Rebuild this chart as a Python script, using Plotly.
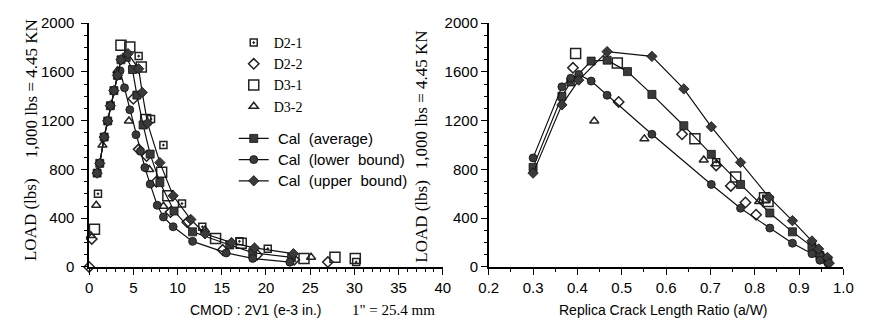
import plotly.graph_objects as go

# ---------------- data: left chart (CMOD vs load) ----------------
cal_avg_x = [0.9, 1.2, 1.7, 2.1, 2.4, 2.8, 3.2, 3.6, 4.2, 4.9, 5.4, 6.1, 6.9, 8.0, 9.6, 11.7, 15.9, 18.5, 22.9]
cal_avg_y = [770, 850, 1066, 1198, 1323, 1447, 1572, 1700, 1720, 1620, 1410, 1165, 926, 692, 459, 288, 180, 117, 78]
cal_low_x = [0.9, 1.2, 1.7, 2.1, 2.4, 2.8, 3.2, 3.5, 4.0, 4.6, 5.3, 5.8, 6.3, 6.9, 7.7, 8.4, 9.5, 11.7, 15.5, 18.5, 22.7]
cal_low_y = [770, 850, 1066, 1198, 1323, 1447, 1572, 1610, 1470, 1290, 1085, 950, 815, 680, 506, 410, 330, 210, 115, 70, 39]
cal_up_x = [0.9, 1.2, 1.7, 2.1, 2.4, 2.8, 3.2, 3.6, 4.4, 5.6, 6.0, 6.6, 8.0, 9.5, 11.5, 13.1, 16.1, 18.7, 23.1]
cal_up_y = [770, 850, 1066, 1198, 1323, 1447, 1572, 1700, 1750, 1626, 1432, 1180, 856, 584, 389, 272, 200, 156, 109]

d21_x = [1.0, 5.6, 7.0, 8.4, 10.5, 12.8, 17.0, 20.2, 30.2]
d21_y = [600, 1730, 1214, 1000, 520, 330, 210, 150, 40]
d22_x = [0.0, 0.3, 5.0, 5.6, 6.5, 7.6, 9.2, 11.1, 15.1, 19.0, 23.2, 27.0]
d22_y = [0, 230, 1380, 965, 910, 700, 450, 366, 140, 100, 60, 40]
d31_x = [0.6, 3.6, 4.6, 5.9, 6.4, 8.2, 8.9, 14.3, 17.2, 24.3, 27.8, 30.1]
d31_y = [310, 1820, 1805, 1640, 1210, 778, 584, 233, 195, 70, 80, 70]
d32_x = [0.2, 0.8, 1.5, 3.2, 4.5, 6.8, 8.4, 13.1, 25.1]
d32_y = [257, 506, 1000, 1610, 1198, 800, 498, 303, 80]

# ---------------- data: right chart (a/W vs load) ----------------
r_avg_x = [0.3, 0.365, 0.385, 0.431, 0.467, 0.513, 0.568, 0.64, 0.702, 0.768, 0.834, 0.885, 0.929, 0.947, 0.965]
r_avg_y = [817, 1400, 1518, 1689, 1697, 1603, 1416, 1159, 924, 677, 443, 288, 167, 93, 55]
r_low_x = [0.3, 0.365, 0.385, 0.403, 0.431, 0.467, 0.568, 0.702, 0.768, 0.834, 0.885, 0.929, 0.947, 0.965]
r_low_y = [895, 1478, 1549, 1580, 1525, 1409, 1089, 677, 482, 319, 195, 109, 55, 31]
r_up_x = [0.3, 0.365, 0.403, 0.467, 0.568, 0.64, 0.702, 0.768, 0.832, 0.885, 0.929, 0.944, 0.964, 0.968]
r_up_y = [770, 1330, 1533, 1767, 1728, 1461, 1150, 858, 573, 380, 213, 148, 78, 31]

rd21_x = [0.713, 0.826]
rd21_y = [860, 560]
rd22_x = [0.39, 0.493, 0.636, 0.713, 0.746, 0.779, 0.803]
rd22_y = [1634, 1354, 1089, 833, 665, 529, 428]
rd31_x = [0.396, 0.49, 0.665, 0.757, 0.822, 0.83]
rd31_y = [1751, 1673, 1051, 739, 568, 537]
rd32_x = [0.438, 0.551, 0.685, 0.81]
rd32_y = [1198, 1051, 878, 537]

x_ticks_left = [0, 5, 10, 15, 20, 25, 30, 35, 40]
x_ticks_right = [0.2, 0.3, 0.4, 0.5, 0.6, 0.7, 0.8, 0.9, 1.0]
y_ticks = [0, 400, 800, 1200, 1600, 2000]

SANS = "Liberation Sans, Arial, sans-serif"
SERIF = "Liberation Serif, Times New Roman, serif"
FILL = "#3a3a3a"

fig = go.Figure()

exp_styles = [
    ("D2-1", "square-dot", 7, d21_x, d21_y, rd21_x, rd21_y),
    ("D2-2", "diamond-open", 8, d22_x, d22_y, rd22_x, rd22_y),
    ("D3-1", "square-open", 10, d31_x, d31_y, rd31_x, rd31_y),
    ("D3-2", "triangle-up-open", 8, d32_x, d32_y, rd32_x, rd32_y),
]
for name, sym, size, lx, ly, rx, ry in exp_styles:
    mk = dict(symbol=sym, size=size, color="#222", line=dict(color="#222", width=1.5))
    if sym == "square-dot":
        mk = dict(symbol="square-dot", size=size, color="white", line=dict(color="#222", width=1.5))
    fig.add_trace(go.Scatter(x=lx, y=ly, mode="markers", name=name, marker=mk, cliponaxis=False,
                             legendgroup="exp", xaxis="x", yaxis="y"))
    fig.add_trace(go.Scatter(x=rx, y=ry, mode="markers", name=name, marker=mk, cliponaxis=False,
                             showlegend=False, xaxis="x2", yaxis="y2"))

cal_styles = [
    ("Cal  (average)", "square", 8, cal_avg_x, cal_avg_y, r_avg_x, r_avg_y),
    ("Cal  (lower  bound)", "circle", 8, cal_low_x, cal_low_y, r_low_x, r_low_y),
    ("Cal  (upper  bound)", "diamond", 8, cal_up_x, cal_up_y, r_up_x, r_up_y),
]
for name, sym, size, lx, ly, rx, ry in cal_styles:
    mk = dict(symbol=sym, size=size, color=FILL, line=dict(color="#111", width=0.8))
    ln = dict(color="#111", width=1.2)
    fig.add_trace(go.Scatter(x=lx, y=ly, mode="lines+markers",
                             name='<span style="font-family:Liberation Sans;font-size:15px">\u00a0' + name + "</span>",
                             marker=mk, line=ln, legendgroup="cal", xaxis="x", yaxis="y"))
    fig.add_trace(go.Scatter(x=rx, y=ry, mode="lines+markers", name=name, marker=mk, line=ln,
                             showlegend=False, xaxis="x2", yaxis="y2"))

W, H = 871, 329
axis_common = dict(showline=True, linecolor="black", linewidth=1.5, showgrid=False, zeroline=False,
                   ticks="outside", ticklen=6, tickwidth=1.3, tickcolor="black",
                   tickfont=dict(family=SANS, size=15, color="black"))

fig.update_layout(
    width=W, height=H,
    margin=dict(l=0, r=0, t=0, b=0),
    paper_bgcolor="white", plot_bgcolor="white",
    showlegend=True,
    legend=dict(x=229 / W, y=1 - 19 / H, xanchor="left", yanchor="top",
                bgcolor="rgba(0,0,0,0)", font=dict(family=SERIF, size=14, color="black"),
                tracegroupgap=11, itemwidth=30),
    xaxis=dict(domain=[81 / W, 443 / W], range=[0, 40], tickvals=x_ticks_left,
               minor=dict(dtick=1, ticks="outside", ticklen=3, tickcolor="black"),
               anchor="y", **axis_common),
    yaxis=dict(domain=[(H - 272) / H, (H - 15) / H], range=[0, 2000], tickvals=y_ticks,
               minor=dict(dtick=100, ticks="outside", ticklen=3, tickcolor="black"),
               anchor="x", ticklabelstandoff=4, **axis_common),
    xaxis2=dict(domain=[490 / W, 853 / W], range=[0.2, 1.0], tickvals=x_ticks_right, tickformat=".1f",
                minor=dict(dtick=0.05, ticks="outside", ticklen=3, tickcolor="black"),
                anchor="y2", **axis_common),
    yaxis2=dict(domain=[(H - 272) / H, (H - 15) / H], range=[0, 2000], tickvals=y_ticks,
                minor=dict(dtick=100, ticks="outside", ticklen=3, tickcolor="black"),
                anchor="x2", **axis_common),
)

ann = []
def add_text(text, px, py, family, size, angle=0, xanchor="center"):
    ann.append(dict(text=text, x=px / W, y=1 - py / H, xref="paper", yref="paper", showarrow=False,
                    textangle=angle, xanchor=xanchor, yanchor="middle",
                    font=dict(family=family, size=size, color="black")))

add_text("LOAD (lbs)", 21, 222, SERIF, 17, -90)
add_text("1,000 lbs = 4.45 KN", 22, 84, SERIF, 17, -90)
add_text("LOAD (lbs)", 421, 224, SERIF, 17, -90)
add_text("1,000 lbs = 4.45 KN", 421, 96, SERIF, 17, -90)
add_text("CMOD : 2V1 (e-3 in.)", 182, 317, SANS, 14, xanchor="left")
add_text("1\" = 25.4 mm", 348, 317, SERIF, 15, xanchor="left")
add_text("Replica Crack Length Ratio (a/W)", 669, 317, SANS, 14)
fig.update_layout(annotations=ann)

fig.write_html("out.html")
